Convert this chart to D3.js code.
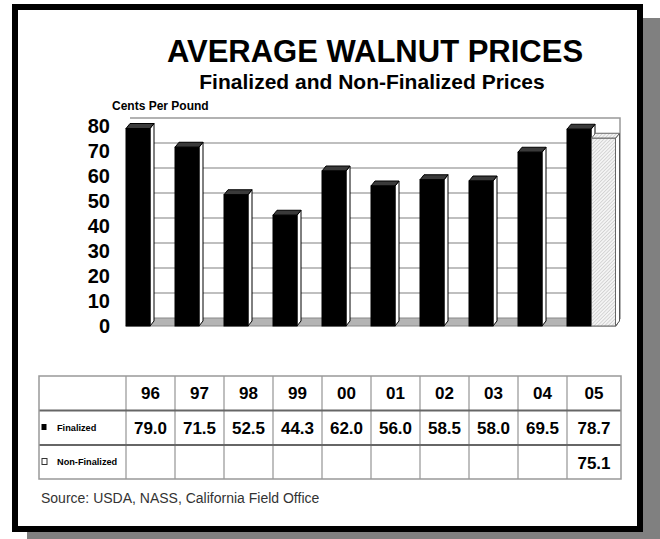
<html>
<head>
<title>Average Walnut Prices</title>
<script src="https://d3js.org/d3.v7.min.js"></script>
<style>
  body { margin: 0; background: white; }
  text { font-family: "Liberation Sans", Arial, sans-serif; }
</style>
</head>
<body>
<svg id="chart" width="660" height="539"></svg>
<script>
// data
var years = ["96", "97", "98", "99", "00", "01", "02", "03", "04", "05"];
var finalized = [79.0, 71.5, 52.5, 44.3, 62.0, 56.0, 58.5, 58.0, 69.5, 78.7];
var nonFinalized = [null, null, null, null, null, null, null, null, null, 75.1];
var series = ["Finalized", "Non-Finalized"];
var yTicks = [0, 10, 20, 30, 40, 50, 60, 70, 80];

var svg = d3.select("#chart");

// frame with drop shadow
svg.append("rect").attr("x", 27).attr("y", 18).attr("width", 640).attr("height", 540).attr("fill", "#808080");
svg.append("rect").attr("x", 15).attr("y", 7).attr("width", 625).attr("height", 522)
  .attr("fill", "white").attr("stroke", "black").attr("stroke-width", 6);

// hatch for the non-finalized bar
var defs = svg.append("defs");
defs.append("pattern").attr("id", "hatch").attr("width", 2.5).attr("height", 2.5)
  .attr("patternUnits", "userSpaceOnUse").attr("patternTransform", "rotate(45)")
  .call(function (p) {
    p.append("rect").attr("width", 2.5).attr("height", 2.5).attr("fill", "#f4f4f4");
    p.append("line").attr("x1", 0).attr("y1", 0).attr("x2", 0).attr("y2", 2.5)
      .attr("stroke", "#aaa").attr("stroke-width", 0.8);
  });

// titles
svg.append("text").attr("x", 375).attr("y", 62).attr("text-anchor", "middle")
  .style("font-size", "31px").style("font-weight", "bold").text("AVERAGE WALNUT PRICES");
svg.append("text").attr("x", 372).attr("y", 89).attr("text-anchor", "middle")
  .style("font-size", "21px").style("font-weight", "bold").text("Finalized and Non-Finalized Prices");
svg.append("text").attr("x", 112).attr("y", 110)
  .style("font-size", "12px").style("font-weight", "bold").text("Cents Per Pound");

// scales
var x = d3.scaleBand().domain(years).range([126, 616]);
var xs = d3.scaleBand().domain(series).range([0, x.bandwidth()]);
var y = d3.scaleLinear().domain([0, 80]).range([326, 126]);
var dx = 4, dy = 8;     // depth of the back wall
var bdx = 4, bdy = 5;   // depth of a bar

// back wall gridlines
var wall = svg.append("g");
wall.selectAll("line.grid").data(yTicks.slice(1, -1)).enter().append("line")
  .attr("x1", x.range()[0] + dx).attr("x2", x.range()[1] + dx)
  .attr("y1", function (d) { return y(d) - dy; }).attr("y2", function (d) { return y(d) - dy; })
  .attr("stroke", "#aaa").attr("stroke-width", 1.5);
wall.append("path")
  .attr("d", "M" + (x.range()[0] + dx) + "," + (y(80) - dy) + "H" + (x.range()[1] + dx) +
    "V" + (y(0) - dy) + "L" + x.range()[1] + "," + y(0))
  .attr("fill", "none").attr("stroke", "#999").attr("stroke-width", 1.5);

// floor
wall.append("path")
  .attr("d", "M" + (x.range()[0] + dx) + "," + (y(0) - dy) + "H" + (x.range()[1] + dx) +
    "L" + x.range()[1] + "," + y(0) + "H" + x.range()[0] + "Z")
  .attr("fill", "#b4b4b4").attr("stroke", "#888").attr("stroke-width", 1);

// y axis labels
svg.append("g").selectAll("text").data(yTicks).enter().append("text")
  .attr("x", 110).attr("y", function (d) { return y(d); }).attr("dy", "0.36em")
  .attr("text-anchor", "end").style("font-size", "20px").style("font-weight", "bold")
  .text(function (d) { return d; });

// bars
var bars = [];
years.forEach(function (yr, i) {
  if (finalized[i] != null) bars.push({ year: yr, s: "Finalized", v: finalized[i] });
  if (nonFinalized[i] != null) bars.push({ year: yr, s: "Non-Finalized", v: nonFinalized[i] });
});
var bw = xs.bandwidth() - 0.5;
var g = svg.append("g").selectAll("g").data(bars).enter().append("g");
g.each(function (d) {
  var el = d3.select(this);
  var x0 = x(d.year) + xs(d.s), x1 = x0 + bw, yt = y(d.v), yb = y(0);
  var fin = d.s == "Finalized";
  // side
  el.append("path").attr("d", "M" + x1 + "," + yt + "l" + bdx + "," + (-bdy) + "V" + (yb - bdy) + "L" + x1 + "," + yb + "Z")
    .attr("fill", "white").attr("stroke", fin ? "black" : "#555").attr("stroke-width", 1);
  // top
  el.append("path").attr("d", "M" + x0 + "," + yt + "l" + bdx + "," + (-bdy) + "H" + (x1 + bdx) + "L" + x1 + "," + yt + "Z")
    .attr("fill", fin ? "#3a3a3a" : "url(#hatch)").attr("stroke", fin ? "black" : "#666").attr("stroke-width", 1);
  // front
  el.append("rect").attr("x", x0).attr("y", yt).attr("width", bw).attr("height", yb - yt)
    .attr("fill", fin ? "black" : "url(#hatch)").attr("stroke", fin ? "black" : "#666").attr("stroke-width", 1);
});

// data table
var tLeft = 39, tRight = 621, rowTop = [376, 410.5, 445, 479];
var table = svg.append("g");
table.selectAll("line.col").data(years).enter().append("line")
  .attr("x1", function (d) { return x(d); }).attr("x2", function (d) { return x(d); })
  .attr("y1", rowTop[0]).attr("y2", rowTop[3]).attr("stroke", "#aaa").attr("stroke-width", 1.5);
table.selectAll("line.row").data(rowTop.slice(1, 3)).enter().append("line")
  .attr("x1", tLeft).attr("x2", tRight).attr("y1", function (d) { return d; }).attr("y2", function (d) { return d; })
  .attr("stroke", "#666").attr("stroke-width", 2);
table.append("rect").attr("x", tLeft).attr("y", rowTop[0]).attr("width", tRight - tLeft).attr("height", rowTop[3] - rowTop[0])
  .attr("fill", "none").attr("stroke", "#999").attr("stroke-width", 1.5);

function cellX(i) {
  var left = x(years[i]);
  var right = i == years.length - 1 ? tRight : left + x.bandwidth();
  return (left + right) / 2;
}
table.selectAll("text.yr").data(years).enter().append("text")
  .attr("x", function (d, i) { return cellX(i); }).attr("y", 399).attr("text-anchor", "middle")
  .style("font-size", "17px").style("font-weight", "bold").text(function (d) { return d; });
table.selectAll("text.fin").data(finalized).enter().append("text")
  .attr("x", function (d, i) { return cellX(i); }).attr("y", 434).attr("text-anchor", "middle")
  .style("font-size", "17px").style("font-weight", "bold").text(function (d) { return d3.format(".1f")(d); });
table.selectAll("text.non").data(nonFinalized).enter().append("text")
  .attr("x", function (d, i) { return cellX(i); }).attr("y", 469).attr("text-anchor", "middle")
  .style("font-size", "17px").style("font-weight", "bold").text(function (d) { return d == null ? "" : d3.format(".1f")(d); });

// legend keys in the table
table.append("rect").attr("x", 41.5).attr("y", 424).attr("width", 5).attr("height", 6).attr("fill", "black");
table.append("text").attr("x", 57).attr("y", 431).style("font-size", "9.2px").style("font-weight", "bold").text(series[0]);
table.append("rect").attr("x", 42).attr("y", 458.5).attr("width", 5).attr("height", 6)
  .attr("fill", "white").attr("stroke", "#333").attr("stroke-width", 1);
table.append("text").attr("x", 57).attr("y", 465).style("font-size", "9.2px").style("font-weight", "bold").text(series[1]);

// source
svg.append("text").attr("x", 41).attr("y", 503).style("font-size", "14px").attr("fill", "#333")
  .text("Source: USDA, NASS, California Field Office");
</script>
</body>
</html>
